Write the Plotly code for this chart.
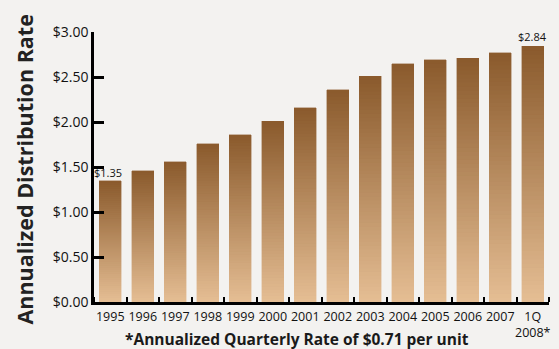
import plotly.graph_objects as go
import numpy as np

years = ["1995", "1996", "1997", "1998", "1999", "2000", "2001", "2002",
         "2003", "2004", "2005", "2006", "2007", "1Q<br>2008*"]
rates = [1.35, 1.46, 1.56, 1.76, 1.86, 2.01, 2.16, 2.36, 2.51, 2.65, 2.69, 2.71, 2.77, 2.84]
y_ticks = [0, 0.5, 1.0, 1.5, 2.0, 2.5, 3.0]
y_tick_text = ["$0.00", "$0.50", "$1.00", "$1.50", "$2.00", "$2.50", "$3.00"]

# gradient: light at bottom, dark at top (per bar)
bottom_rgb = np.array([229, 190, 148])
top_rgb = np.array([138, 90, 44])
N = 60

pos = list(range(len(years)))
fig = go.Figure()
for i in range(N):
    t = (i + 0.5) / N
    c = bottom_rgb + (top_rgb - bottom_rgb) * t
    col = "rgb(%d,%d,%d)" % tuple(int(round(v)) for v in c)
    fig.add_trace(go.Bar(
        x=pos, y=[float(r) / N for r in rates],
        marker=dict(color=col, line=dict(width=0.4, color=col)),
        width=0.68, showlegend=False, hoverinfo="skip"))

fig.update_layout(
    barmode="stack",
    width=559, height=349,
    margin=dict(l=94, r=10, t=32, b=47),
    paper_bgcolor="#F3F2F0", plot_bgcolor="#F3F2F0",
    font=dict(family="Open Sans", color="#111111"),
)
fig.update_xaxes(
    range=[-0.5, len(years) - 0.5], tickmode="array", tickvals=pos, ticktext=years,
    ticks="", showline=True, linecolor="black", linewidth=2.5, ticklabelstandoff=1,
    automargin=False,
    minor=dict(ticks="inside", tick0=-0.5, dtick=1, ticklen=5, tickwidth=2, tickcolor="black", showgrid=False),
    tickfont=dict(size=12.5, color="#111111"), showgrid=False, zeroline=False, tickangle=0,
)
fig.update_yaxes(
    range=[0, 3.0], tickvals=y_ticks, ticktext=y_tick_text, automargin=False,
    showline=True, linecolor="black", linewidth=2.5,
    ticks="inside", ticklen=10, tickwidth=2.5, tickcolor="black",
    tickfont=dict(size=14, color="#111111"), showgrid=False, zeroline=False,
)

# value labels on first and last bars
fig.add_annotation(x=pos[0], y=rates[0], text="$%.2f" % rates[0], showarrow=False,
                   yanchor="bottom", xshift=-2, yshift=-1, font=dict(size=11, color="#111111"))
fig.add_annotation(x=pos[-1], y=rates[-1], text="$%.2f" % rates[-1], showarrow=False,
                   yanchor="bottom", yshift=0, font=dict(size=11, color="#111111"))

fig.add_annotation(xref="paper", yref="paper", x=-0.152, y=0.49, xanchor="center", yanchor="middle",
                   text="<b>Annualized Distribution Rate</b>",
                   textangle=-90, showarrow=False, font=dict(size=21.5, color="#222222"))
fig.add_annotation(xref="paper", yref="paper", x=0.446, y=-0.138, text="<b>*Annualized Quarterly Rate of $0.71 per unit</b>",
                   showarrow=False, yanchor="middle", xanchor="center", font=dict(size=15.5, color="#1a1a1a"))

fig.write_html("out.html")
